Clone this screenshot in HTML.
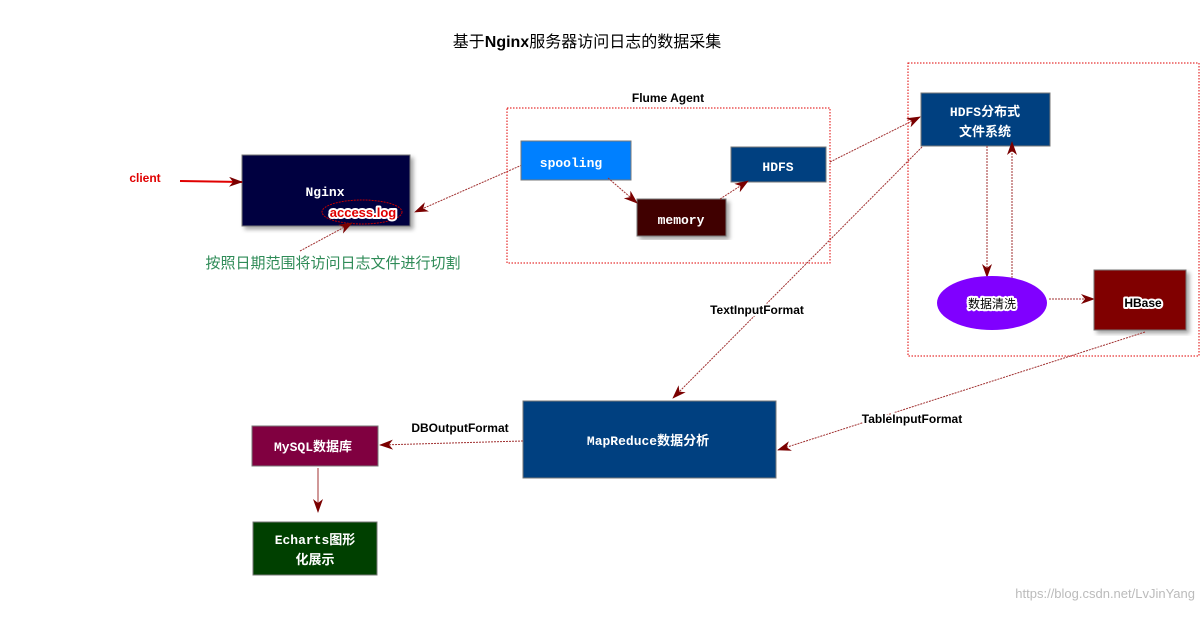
<!DOCTYPE html>
<html><head><meta charset="utf-8"><style>
body{margin:0;background:#fff}
svg text{font-family:"Liberation Sans","Noto Sans CJK SC",sans-serif}
.m{font-family:"Liberation Mono","Noto Sans CJK SC",monospace;font-weight:bold;fill:#fff;font-size:13px}
.lb{font-weight:bold;font-size:12px;fill:#000;paint-order:stroke;stroke:#fff;stroke-width:4px;stroke-linejoin:round}
.ln{stroke:#a03030;stroke-width:1;stroke-dasharray:2 1;fill:none}
</style></head><body>
<svg width="1202" height="612" xmlns="http://www.w3.org/2000/svg">
<defs>
<marker id="a" markerWidth="14" markerHeight="10" refX="13" refY="5" orient="auto" markerUnits="userSpaceOnUse">
<path d="M0,0 L14,5 L0,10 L4,5 Z" fill="#7a0000"/></marker>
<filter id="s"><feDropShadow dx="3" dy="3" stdDeviation="2" flood-opacity="0.35"/></filter>
</defs>
<text x="587" y="47" text-anchor="middle" font-size="16" class="lb" style="font-weight:normal;font-size:16px">基于<tspan font-weight="bold">Nginx</tspan>服务器访问日志的数据采集</text>

<!-- Nginx -->
<rect x="242" y="155" width="168" height="71" fill="#000040" stroke="#777" filter="url(#s)"/>
<text x="325" y="196" class="m" text-anchor="middle">Nginx</text>
<ellipse cx="362" cy="212" rx="40" ry="12" fill="none" stroke="#c00000" stroke-dasharray="2 1"/>
<text x="363" y="217" text-anchor="middle" font-size="13" font-weight="bold" fill="#e00000" style="paint-order:stroke;stroke:#fff;stroke-width:4px;stroke-linejoin:round">access.log</text>
<text x="145" y="182" text-anchor="middle" font-size="12" font-weight="bold" fill="#e00000" style="paint-order:stroke;stroke:#fff;stroke-width:4px;stroke-linejoin:round">client</text>
<line x1="180" y1="181" x2="242" y2="182" stroke="#e00000" stroke-width="2" marker-end="url(#a)"/>
<line x1="522" y1="165" x2="415" y2="212" class="ln" marker-end="url(#a)"/>
<line x1="300" y1="251" x2="352" y2="223" class="ln" marker-end="url(#a)"/>
<text x="333" y="268" text-anchor="middle" font-size="15" fill="#2e8b57" style="paint-order:stroke;stroke:#fff;stroke-width:4px;stroke-linejoin:round">按照日期范围将访问日志文件进行切割</text>

<!-- Flume -->
<rect x="507" y="108" width="323" height="155" fill="none" stroke="#e00000" stroke-dasharray="1.5 1.5"/>
<text x="668" y="102" text-anchor="middle" class="lb">Flume Agent</text>
<rect x="521" y="141" width="110" height="39" fill="#0080ff" stroke="#777"/>
<text x="571" y="167" class="m" text-anchor="middle">spooling</text>
<rect x="637" y="199" width="89" height="37" fill="#400000" stroke="#777" filter="url(#s)"/>
<text x="681" y="224" class="m" text-anchor="middle">memory</text>
<rect x="731" y="147" width="95" height="35" fill="#004080" stroke="#777"/>
<text x="778" y="171" class="m" text-anchor="middle" font-family="Liberation Sans">HDFS</text>
<line x1="608" y1="178" x2="637" y2="203" class="ln" marker-end="url(#a)"/>
<line x1="720" y1="199" x2="748" y2="181" class="ln" marker-end="url(#a)"/>
<line x1="830" y1="162" x2="920" y2="117" class="ln" marker-end="url(#a)"/>

<!-- right -->
<rect x="908" y="63" width="291" height="293" fill="none" stroke="#e00000" stroke-dasharray="1.5 1.5"/>
<rect x="921" y="93" width="129" height="53" fill="#004080" stroke="#777"/>
<text x="985" y="116" class="m" text-anchor="middle" font-size="14">HDFS分布式</text>
<text x="985" y="136" class="m" text-anchor="middle" font-size="14">文件系统</text>
<line x1="987" y1="146" x2="987" y2="277" class="ln" marker-end="url(#a)"/>
<line x1="1012" y1="278" x2="1012" y2="142" class="ln" marker-end="url(#a)"/>
<ellipse cx="992" cy="303" rx="55" ry="27" fill="#8000ff"/>
<text x="992" y="308" text-anchor="middle" font-size="14" class="lb" style="font-weight:normal">数据清洗</text>
<line x1="1049" y1="299" x2="1094" y2="299" class="ln" marker-end="url(#a)"/>
<rect x="1094" y="270" width="92" height="60" fill="#800000" stroke="#777" filter="url(#s)"/>
<text x="1143" y="307" text-anchor="middle" class="lb">HBase</text>

<!-- MapReduce -->
<line x1="922" y1="147" x2="673" y2="398" class="ln" marker-end="url(#a)"/>
<text x="757" y="314" text-anchor="middle" class="lb">TextInputFormat</text>
<rect x="523" y="401" width="253" height="77" fill="#004080" stroke="#777"/>
<text x="648" y="445" class="m" text-anchor="middle" font-size="14">MapReduce数据分析</text>
<line x1="1145" y1="332" x2="778" y2="450" class="ln" marker-end="url(#a)"/>
<text x="912" y="423" text-anchor="middle" class="lb">TableInputFormat</text>
<line x1="523" y1="441" x2="380" y2="445" class="ln" marker-end="url(#a)"/>
<text x="460" y="432" text-anchor="middle" class="lb">DBOutputFormat</text>
<rect x="252" y="426" width="126" height="40" fill="#800040" stroke="#777"/>
<text x="313" y="451" class="m" text-anchor="middle" font-size="14">MySQL数据库</text>
<line x1="318" y1="468" x2="318" y2="512" stroke="#a03030" marker-end="url(#a)"/>
<rect x="253" y="522" width="124" height="53" fill="#004000" stroke="#777"/>
<text x="315" y="544" class="m" text-anchor="middle" font-size="14">Echarts图形</text>
<text x="315" y="564" class="m" text-anchor="middle" font-size="14">化展示</text>

<text x="1195" y="598" text-anchor="end" font-size="13" fill="#bbb">https://blog.csdn.net/LvJinYang</text>
</svg>
</body></html>
